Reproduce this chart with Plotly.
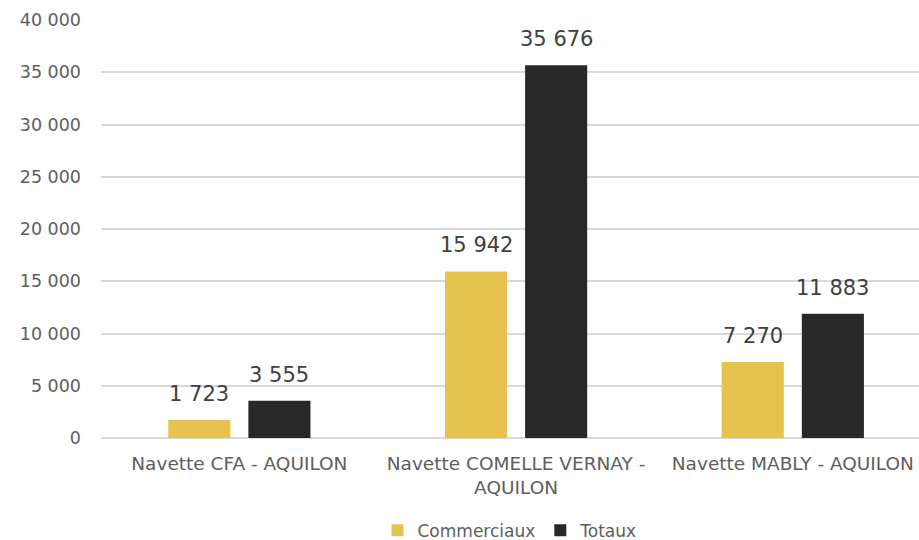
import plotly.graph_objects as go

# Shuttle routes and counts
categories = ["Navette CFA - AQUILON", "Navette COMELLE VERNAY -<br>AQUILON", "Navette MABLY - AQUILON"]
commerciaux = [1723, 15942, 7270]
totaux = [3555, 35676, 11883]
series = [("Commerciaux", commerciaux, "#E6C34F"), ("Totaux", totaux, "#282826")]

FONT = "DejaVu Sans"
GREY = "#5E5E5E"
BARGAP, GROUPGAP = 0.421, 0.225

fig = go.Figure()
for name, vals, col in series:
    fig.add_trace(go.Bar(name=name, x=categories, y=vals,
                         marker=dict(color=col, line=dict(width=0))))

# value labels above each bar, centred on its slot within the group
slot = (1 - BARGAP) / len(series)
for k, (name, vals, col) in enumerate(series):
    off = -(1 - BARGAP) / 2 + slot * (k + 0.5)
    for i, v in enumerate(vals):
        fig.add_annotation(x=i + off, y=v, xref="x", yref="y",
                           text=f"{v:,}".replace(",", " "), showarrow=False,
                           yanchor="bottom", yshift=12,
                           font=dict(family=FONT, size=21, color="#404040"))

fig.update_layout(
    width=919, height=540,
    margin=dict(l=101, r=0, t=20, b=102, autoexpand=False),
    paper_bgcolor="white", plot_bgcolor="white",
    separators=", ",
    barmode="group", bargap=BARGAP, bargroupgap=GROUPGAP,
    font=dict(family=FONT, color=GREY, size=17),
    showlegend=True,
    legend=dict(orientation="h", x=0.5, xanchor="center",
                yref="container", y=0.017, yanchor="middle",
                font=dict(size=17, color=GREY), traceorder="normal"),
    xaxis=dict(range=[-0.5, 2.456], showgrid=False, showline=False, ticks="",
               ticklabelstandoff=12, tickfont=dict(size=18.5, color=GREY)),
    yaxis=dict(range=[0, 40000], dtick=5000, tickformat=",d",
               showgrid=True, gridcolor="#D9D9D9", gridwidth=1.5,
               zeroline=True, zerolinecolor="#D9D9D9", zerolinewidth=1.5,
               showline=False, ticks="", ticklabelstandoff=19,
               tickfont=dict(size=17.5, color=GREY)),
)

fig.write_html("out.html")
